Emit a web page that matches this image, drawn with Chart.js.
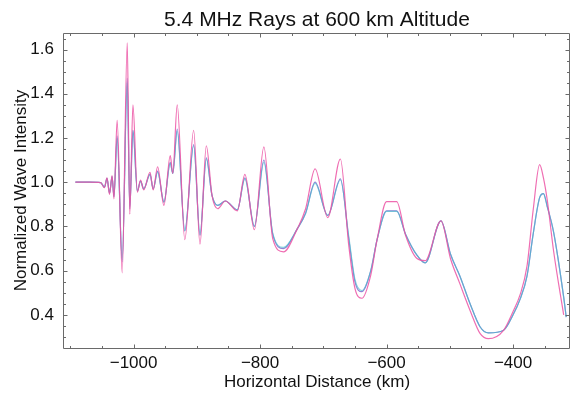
<!DOCTYPE html>
<html>
<head>
<meta charset="utf-8">
<script src="https://cdn.jsdelivr.net/npm/chart.js@4/dist/chart.umd.min.js"></script>
<style>
  html, body { margin: 0; padding: 0; background: #fff; }
  #wrap { width: 570px; height: 395px; }
</style>
</head>
<body>
<div id="wrap"><canvas id="chart-rays"></canvas></div>
<script>
/*
  ==================================================
  ===================== DATA =======================
  ==================================================
*/

const distanceKm = [
  -1092, -1070, -1052, -1046, -1042, -1038, -1034, -1031, -1026, -1018,
  -1010, -1006, -1001, -994, -989, -984, -974, -969, -962, -952,
  -942, -938, -931, -919, -905, -895, -885, -876, -867, -855,
  -836, -824, -809, -794, -780, -763, -741, -728, -713, -693,
  -673, -660, -650, -639, -625, -615, -600, -584, -570, -552,
  -539, -514, -499, -484, -468, -452, -439, -415, -400, -389,
  -378, -368, -358, -352, -346, -336, -320, -316
];

const rayPink = [
  1.0, 1.0, 0.998, 0.975, 1.02, 0.945, 1.03, 0.925, 1.28, 0.59,
  1.63, 0.855, 1.35, 0.955, 1.01, 0.965, 1.045, 0.965, 1.07, 0.895,
  1.12, 1.04, 1.35, 0.74, 1.235, 0.72, 1.165, 0.94, 0.88, 0.915,
  0.87, 1.035, 0.785, 1.16, 0.745, 0.685, 0.79, 0.88, 1.06, 0.84,
  1.105, 0.72, 0.52, 0.475, 0.58, 0.74, 0.912, 0.912, 0.76, 0.655,
  0.645, 0.825, 0.655, 0.54, 0.42, 0.315, 0.292, 0.33, 0.415, 0.49,
  0.62, 0.88, 1.08, 1.02, 0.92, 0.69, 0.40, null
];

const rayCyan = [
  1.0, 1.0, 0.998, 0.978, 1.018, 0.95, 1.025, 0.935, 1.2, 0.65,
  1.45, 0.89, 1.235, 0.96, 1.005, 0.97, 1.035, 0.97, 1.045, 0.91,
  1.085, 1.04, 1.23, 0.78, 1.165, 0.76, 1.105, 0.94, 0.895, 0.915,
  0.875, 1.015, 0.80, 1.09, 0.77, 0.705, 0.79, 0.86, 0.995, 0.85,
  1.01, 0.76, 0.56, 0.51, 0.6, 0.74, 0.868, 0.868, 0.765, 0.67,
  0.635, 0.825, 0.675, 0.575, 0.45, 0.345, 0.318, 0.33, 0.40, 0.47,
  0.575, 0.77, 0.93, 0.948, 0.89, 0.775, 0.48, 0.39
];

const rayBlue = [
  1.0, 1.0, 0.998, 0.978, 1.018, 0.95, 1.025, 0.935, 1.21, 0.64,
  1.47, 0.88, 1.235, 0.96, 1.005, 0.97, 1.035, 0.97, 1.05, 0.91,
  1.09, 1.04, 1.24, 0.78, 1.17, 0.76, 1.11, 0.94, 0.895, 0.915,
  0.875, 1.02, 0.80, 1.10, 0.765, 0.70, 0.79, 0.86, 1.0, 0.85,
  1.015, 0.75, 0.55, 0.505, 0.6, 0.74, 0.87, 0.87, 0.765, 0.67,
  0.635, 0.825, 0.675, 0.575, 0.45, 0.345, 0.318, 0.33, 0.40, 0.47,
  0.575, 0.77, 0.93, 0.948, 0.89, 0.775, 0.48, 0.39
];

const xTickLabels = [-1000, -800, -600, -400];
const yTickLabels = [0.4, 0.6, 0.8, 1.0, 1.2, 1.4, 1.6];

const FONT = "'Liberation Sans', Arial, sans-serif";

/*
  ==================================================
  ============ FRAME + TITLE (MATHEMATICA) ==========
  ==================================================
*/

const framePlugin = {
  id: 'frame',
  afterDatasetsDraw(chart) {
    const { ctx, chartArea: a, scales: { x, y } } = chart;
    ctx.save();
    ctx.strokeStyle = '#6a6a6a';
    ctx.lineWidth = 1;

    let L = Math.round(a.left) - 0.5, R = Math.round(a.right) - 0.5;
    let T = Math.round(a.top) + 0.5, B = Math.round(a.bottom) + 0.5;
    ctx.beginPath();
    ctx.moveTo(L, T); ctx.lineTo(R, T); ctx.lineTo(R, B); ctx.lineTo(L, B); ctx.closePath();
    ctx.stroke();

    // ticks every 50 km, inward, top and bottom
    ctx.beginPath();
    for (let v = -1100; v <= x.max; v += 50) {
      let px = Math.round(x.getPixelForValue(v)) + 0.5;
      let len = xTickLabels.includes(v) ? 4 : 2.5;
      ctx.moveTo(px, B); ctx.lineTo(px, B - len);
      ctx.moveTo(px, T); ctx.lineTo(px, T + len);
    }
    // ticks every 0.05, inward, left and right
    for (let i = 6; i <= 33; i++) {
      let v = i * 0.05;
      if (v < y.min || v > y.max) continue;
      let py = Math.round(y.getPixelForValue(v)) + 0.5;
      let len = (i % 4 === 0) ? 4 : 2.5;
      ctx.moveTo(L, py); ctx.lineTo(L + len, py);
      ctx.moveTo(R, py); ctx.lineTo(R - len, py);
    }
    ctx.stroke();

    ctx.fillStyle = '#111';
    ctx.font = `21px ${FONT}`;
    ctx.textAlign = 'center';
    ctx.textBaseline = 'middle';
    ctx.fillText('5.4 MHz Rays at 600 km Altitude', (a.left + a.right) / 2, 20);
    ctx.restore();
  }
};

/*
  ==================================================
  ===================== CHART ======================
  ==================================================
*/

const lineStyle = (color) => ({
  borderColor: color,
  borderWidth: 1.2,
  pointRadius: 0,
  fill: false,
  cubicInterpolationMode: 'monotone'
});

let canvasRays = document.getElementById('chart-rays').getContext('2d');

let raysChart = new Chart(canvasRays, {
  type: 'line',
  data: {
    labels: distanceKm,
    datasets: [
      { label: 'pink', data: rayPink, ...lineStyle('rgba(236, 84, 165, 0.85)') },
      { label: 'cyan', data: rayCyan, ...lineStyle('rgba(70, 190, 205, 0.65)') },
      { label: 'blue', data: rayBlue, ...lineStyle('rgba(110, 90, 200, 0.75)') }
    ]
  },
  options: {
    responsive: true,
    maintainAspectRatio: false,
    animation: false,
    layout: { padding: { top: 33, right: 0, bottom: 0, left: 0 } },
    plugins: {
      legend: { display: false },
      tooltip: { enabled: false },
      title: { display: false }
    },
    scales: {
      x: {
        type: 'linear',
        min: -1110,
        max: -310,
        grid: { display: false, drawTicks: false },
        border: { display: false },
        afterBuildTicks: (s) => { s.ticks = xTickLabels.map(v => ({ value: v })); },
        afterFit: (s) => { s.height = 47; },
        ticks: {
          padding: 5,
          color: '#111',
          font: { family: FONT, size: 17 },
          callback: (v) => String(v).replace('-', '\u2212')
        },
        title: {
          display: true,
          text: 'Horizontal Distance (km)',
          color: '#111',
          font: { family: FONT, size: 17 },
          padding: { top: 0, bottom: 2 }
        }
      },
      y: {
        min: 0.25,
        max: 1.675,
        grid: { display: false, drawTicks: false },
        border: { display: false },
        afterBuildTicks: (s) => { s.ticks = yTickLabels.map(v => ({ value: v })); },
        afterFit: (s) => { s.width = 64; },
        ticks: {
          padding: 10,
          color: '#111',
          font: { family: FONT, size: 17 },
          callback: (v) => Number(v).toFixed(1)
        },
        title: {
          display: true,
          text: 'Normalized Wave Intensity',
          color: '#111',
          font: { family: FONT, size: 17 },
          padding: { top: 11, bottom: 0 }
        }
      }
    }
  },
  plugins: [framePlugin]
});
</script>
</body>
</html>
